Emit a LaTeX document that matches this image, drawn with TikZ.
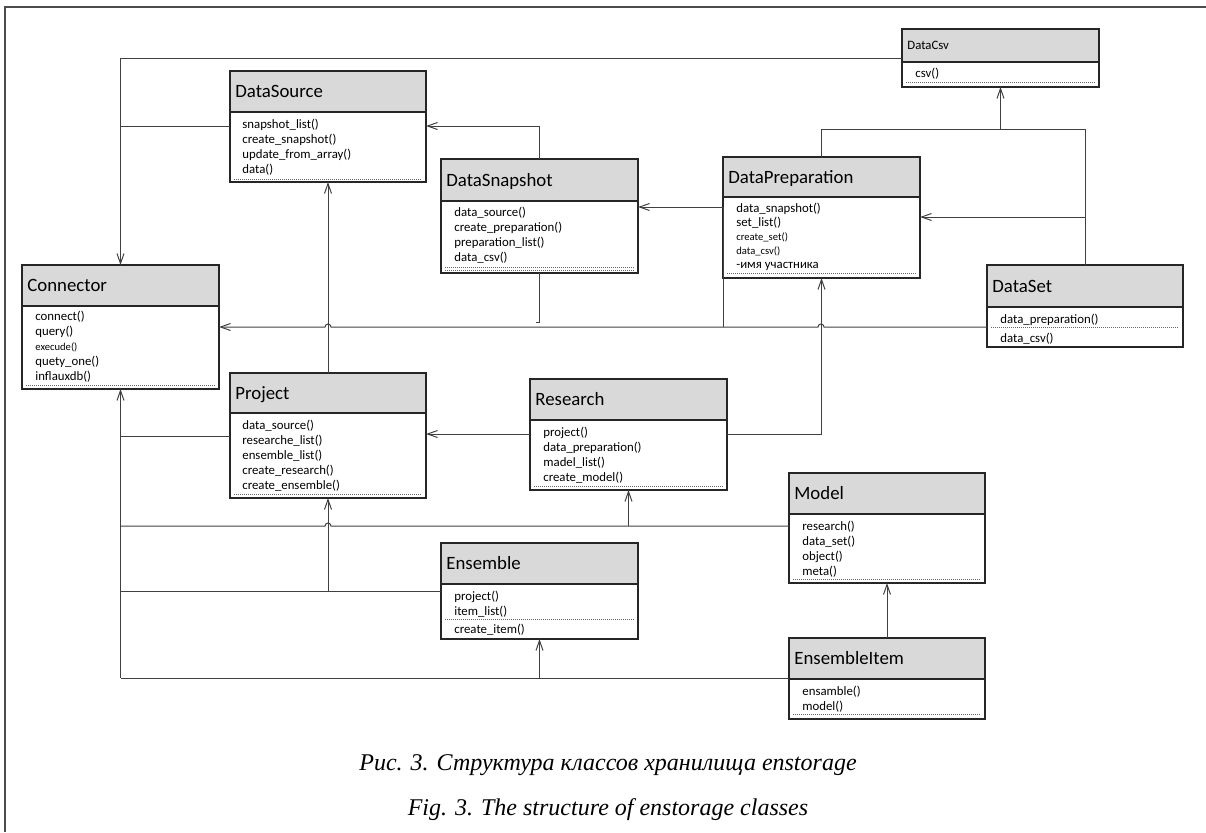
\documentclass[tikz,border=0pt]{standalone}
\usepackage{fontspec}
\setmainfont{Liberation Serif}
\newfontfamily\umlfont{Carlito}
\usetikzlibrary{arrows.meta}

\tikzset{
  classbox/.style={draw=black!85, line width=0.6pt, inner sep=0pt, outer sep=0pt, anchor=north west},
  hdr/.style={fill=black!15, draw=black!85, line width=0.6pt},
  title/.style={anchor=base west, inner sep=0pt, font=\umlfont\fontsize{9.4}{11}\selectfont},
  meth/.style={anchor=base west, inner sep=0pt, align=left, font=\umlfont\fontsize{6.4}{7.5}\selectfont},
  dots/.style={draw=black!60, line width=0.3pt, dash pattern=on 0.5pt off 0.5pt},
  link/.style={draw=black!75, line width=0.5pt},
  arr/.style={-{Straight Barb[length=5pt,width=3.5pt]}},
  caption/.style={anchor=base, inner sep=0pt, font=\itshape\fontsize{12}{14}\selectfont},
  frame/.style={draw=black!70, line width=0.6pt}
}

\begin{document}
\begin{tikzpicture}[x=0.5pt,y=-0.5pt]
    \useasboundingbox (0,0) rectangle (1206,832);
    \draw[frame] (1206,7) -- (5,7) -- (5,832);

    % classes (method lists are placed by their last line)
    \filldraw[hdr] (230,71) rectangle (426,112);
    \node[classbox, minimum width=98pt, minimum height=55.5pt] (source) at (230,71) {};
    \node[title] (source-t) at (235,97.5) {DataSource};
    \node[meth] (source-m) at (242,173) {snapshot\_list()\\create\_snapshot()\\update\_from\_array()\\data()};
    \draw[dots] (234,179) -- (422,179);

    \filldraw[hdr] (902,29) rectangle (1099,62);
    \node[classbox, minimum width=98.5pt, minimum height=29pt] (csv) at (902,29) {};
    \node[title, font=\umlfont\fontsize{6.4}{7.5}\selectfont] (csv-t) at (907,49.5) {DataCsv};
    \node[meth] (csv-m) at (915,77) {csv()};
    \draw[dots] (906,82) -- (1095,82);

    \filldraw[hdr] (441,159) rectangle (638,201);
    \node[classbox, minimum width=98.5pt, minimum height=57pt] (snap) at (441,159) {};
    \node[title] (snap-t) at (446,186) {DataSnapshot};
    \node[meth] (snap-m) at (454,261) {data\_source()\\create\_preparation()\\preparation\_list()\\data\_csv()};
    \draw[dots] (445,267) -- (634,267);
    \draw[dots] (445,270) -- (634,270);

    \filldraw[hdr] (723,157) rectangle (920,197);
    \node[classbox, minimum width=98.5pt, minimum height=60.5pt] (prep) at (723,157) {};
    \node[title] (prep-t) at (728,183) {DataPreparation};
    \node[meth, font=\umlfont\fontsize{6.4}{7}\selectfont] (prep-m) at (736,268) {data\_snapshot()\\set\_list()\\{\fontsize{5.3}{7}\selectfont create\_set()}\\{\fontsize{5.3}{7}\selectfont data\_csv()}\\-имя участника};
    \draw[dots] (727,273) -- (916,273);

    \filldraw[hdr] (987,265) rectangle (1183,307);
    \node[classbox, minimum width=98pt, minimum height=41pt] (set) at (987,265) {};
    \node[title] (set-t) at (992,292) {DataSet};
    \node[meth] (set-m) at (1000,342) {data\_preparation()\\[2pt]data\_csv()};
    \draw[dots] (991,327) -- (1179,327);

    \filldraw[hdr] (22,265) rectangle (219,306);
    \node[classbox, minimum width=98.5pt, minimum height=62pt] (connector) at (22,265) {};
    \node[title] (connector-t) at (27,291.5) {Connector};
    \node[meth] (connector-m) at (35,380) {connect()\\query()\\{\fontsize{5.3}{7.5}\selectfont execude()}\\quety\_one()\\inflauxdb()};
    \draw[dots] (26,385) -- (215,385);

    \filldraw[hdr] (230,373) rectangle (426,413);
    \node[classbox, minimum width=98pt, minimum height=62.5pt] (proj) at (230,373) {};
    \node[title] (proj-t) at (235,399) {Project};
    \node[meth] (proj-m) at (242,489) {data\_source()\\researche\_list()\\ensemble\_list()\\create\_research()\\create\_ensemble()};
    \draw[dots] (234,494) -- (422,494);

    \filldraw[hdr] (530,379) rectangle (727,420);
    \node[classbox, minimum width=98.5pt, minimum height=55.5pt] (res) at (530,379) {};
    \node[title] (res-t) at (535,405.5) {Research};
    \node[meth] (res-m) at (543,481) {project()\\data\_preparation()\\madel\_list()\\create\_model()};
    \draw[dots] (534,486) -- (723,486);

    \filldraw[hdr] (789,473) rectangle (985,514);
    \node[classbox, minimum width=98pt, minimum height=55pt] (model) at (789,473) {};
    \node[title] (model-t) at (794,499.5) {Model};
    \node[meth] (model-m) at (802,575) {research()\\data\_set()\\object()\\meta()};
    \draw[dots] (793,579) -- (981,579);

    \filldraw[hdr] (441,543) rectangle (638,584);
    \node[classbox, minimum width=98.5pt, minimum height=48pt] (ens) at (441,543) {};
    \node[title] (ens-t) at (446,569.5) {Ensemble};
    \node[meth] (ens-m) at (454,633) {project()\\item\_list()\\[1.5pt]create\_item()};
    \draw[dots] (445,619) -- (634,619);

    \filldraw[hdr] (789,638) rectangle (985,679);
    \node[classbox, minimum width=98pt, minimum height=40.5pt] (item) at (789,638) {};
    \node[title] (item-t) at (794,664.5) {EnsembleItem};
    \node[meth] (item-m) at (802,710) {ensamble()\\model()};
    \draw[dots] (793,714) -- (981,714);

    % connectors
    \draw[link,arr] (csv.west |- 0,58) -| (connector.north);
    \draw[link] (source.west |- 0,126) -- (connector.north |- 0,126);
    \draw[link,arr] (snap.north) |- (source.east |- 0,126);
    \draw[link,arr] (prep.west |- 0,207) -- (snap.east |- 0,207);
    \draw[link] (prep.west |- 0,207) -- (prep.west |- 0,327);
    \draw[link] (snap.south) -- (snap.south |- 0,322) -- ++(-4,0);
    \draw[link] (prep.north) |- (set.north |- 0,129) -- (set.north);
    \draw[link,arr] (csv.south |- 0,129) -- (csv.south);
    \draw[link,arr] (set.north |- 0,217) -- (prep.east |- 0,217);
    \draw[link,arr] (set.west |- 0,327) -- (824,327) arc[start angle=0, end angle=180, radius=1.5pt]
        -- (331,327) arc[start angle=0, end angle=180, radius=1.5pt] -- (connector.east |- 0,327);
    \draw[link,arr] (proj.north) -- (source.south);
    \draw[link,arr] (res.east |- 0,434) -| (prep.south);
    \draw[link,arr] (res.west |- 0,434) -- (proj.east |- 0,434);
    \draw[link] (proj.west |- 0,436) -- (connector.south |- 0,436);
    \draw[link,arr] (connector.south |- 0,678) -- (connector.south);
    \draw[link] (model.west |- 0,526) -- (331,526) arc[start angle=0, end angle=180, radius=1.5pt]
        -- (connector.south |- 0,526);
    \draw[link,arr] (res.south |- 0,526) -- (res.south);
    \draw[link] (ens.west |- 0,591) -- (connector.south |- 0,591);
    \draw[link,arr] (proj.south |- 0,591) -- (proj.south);
    \draw[link] (item.west |- 0,678) -- (connector.south |- 0,678);
    \draw[link,arr] (ens.south |- 0,678) -- (ens.south);
    \draw[link,arr] (item.north) -- (model.south);

    % caption
    \node[caption] (cap-ru) at (608,770) {Рис. 3. Структура классов хранилища enstorage};
    \node[caption] (cap-en) at (608,815) {Fig. 3. The structure of enstorage classes};
\end{tikzpicture}
\end{document}
